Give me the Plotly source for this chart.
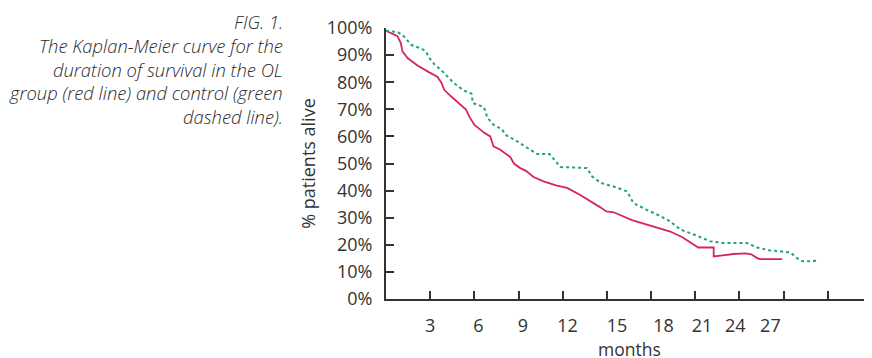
import plotly.graph_objects as go

# ---- data (months, % alive) ----
ol_months = [0, 0.78, 1.0, 1.12, 1.46, 2.14, 2.82, 3.5, 3.77, 3.95, 4.41, 5.43, 5.65, 5.99,
             6.67, 7.08, 7.3, 7.76, 8.44, 8.7, 9.12, 9.5, 10.02, 10.7, 11.6, 12.3, 13.19,
             13.87, 14.5, 14.96, 15.46, 16.7, 18.4, 19.3, 20.1, 20.7, 21.2, 22.25, 22.25,
             23.0, 23.6, 24.4, 24.8, 25.2, 25.4, 26.9]
ol_alive = [99, 97, 94.5, 91.4, 88.9, 86.2, 84.0, 81.9, 79.7, 77.2, 74.8, 69.9, 67.4, 64.3,
            61.3, 60.0, 56.3, 55.1, 52.4, 49.9, 48.3, 47.3, 45.0, 43.4, 41.8, 41.0, 38.4,
            36.2, 34.0, 32.3, 32.0, 29.1, 26.4, 24.9, 22.9, 20.7, 19.0, 19.0, 15.7,
            16.2, 16.6, 16.8, 16.5, 15.1, 14.7, 14.7]

ctrl_months = [0, 0.8, 1.2, 1.7, 2.4, 2.7, 2.95, 3.3, 3.95, 4.6, 5.3, 5.8, 5.9, 6.65, 6.88,
               7.25, 7.9, 8.1, 8.9, 9.8, 10.25, 11.1, 11.5, 11.85, 13.65, 14.0, 14.6, 15.46,
               16.37, 16.8, 17.7, 18.6, 19.3, 20.0, 21.1, 22.0, 22.9, 24.5, 25.2, 26.0,
               27.46, 27.9, 28.3, 29.0, 29.4]
ctrl_alive = [99, 98.5, 97, 93.8, 92.4, 91.4, 88.9, 86.5, 83.4, 79.7, 76.9, 75.8, 72.3, 70.8,
              67.0, 64.5, 62.5, 60.6, 58.2, 55.1, 53.5, 53.5, 50.8, 48.7, 48.3, 45.2, 42.8,
              41.5, 39.7, 35.4, 32.9, 30.7, 28.6, 25.6, 23.4, 21.3, 20.7, 20.7, 19.0, 18.0,
              17.2, 15.1, 13.9, 13.9, 14.5]

x_tick_labels = ["3", "6", "9", "12", "15", "18", "21", "24", "27"]
x_label_pos = [3.0, 6.28, 9.30, 12.33, 15.69, 18.85, 21.46, 23.72, 26.10]
x_title = "months"
y_title = "% patients alive"

caption_lines = ["FIG. 1.", "The Kaplan-Meier curve for the", "duration of survival in the OL",
                 "group (red line) and control (green", "dashed line)."]

RED = "#d6245f"
GREEN = "#239e8c"
AX = "#333333"
FONT = "Open Sans"

# the page body adds an 8px offset; size the figure so the plot lands where the reference has it
OFF = 8
W, H = 872 - OFF, 358 - OFF
ML, MT = 386 - OFF, 28 - OFF
MB = H - MT - 271

fig = go.Figure()
fig.add_trace(go.Scatter(x=ol_months, y=ol_alive, mode="lines",
                         line=dict(color=RED, width=1.8), showlegend=False))
fig.add_trace(go.Scatter(x=ctrl_months, y=ctrl_alive, mode="lines",
                         line=dict(color=GREEN, width=2, dash="3px,3px"), showlegend=False))
# invisible trace to activate label axis
fig.add_trace(go.Scatter(x=[0, 33], y=[0, 0], xaxis="x2", mode="lines",
                         line=dict(width=0), hoverinfo="skip", showlegend=False))

fig.update_layout(
    width=W, height=H,
    margin=dict(l=ML, r=0, t=MT, b=MB),
    paper_bgcolor="white", plot_bgcolor="white",
    font=dict(family=FONT, color=AX, size=18),
    xaxis=dict(range=[0, 33], dtick=3, tick0=0, ticks="inside", ticklen=8, tickwidth=1.5,
               tickcolor=AX, showline=True, linewidth=2, linecolor=AX, showgrid=False,
               zeroline=False, showticklabels=False, automargin=False),
    xaxis2=dict(range=[0, 33], overlaying="x", side="bottom", tickmode="array",
                tickvals=x_label_pos, ticktext=x_tick_labels, ticks="outside", ticklen=10,
                tickcolor="rgba(0,0,0,0)", showline=False, showgrid=False, zeroline=False,
                tickfont=dict(size=18, color=AX), automargin=False),
    yaxis=dict(range=[0, 100], dtick=10, tick0=0, ticks="inside", ticklen=8, tickwidth=1.5,
               tickcolor=AX, showline=True, linewidth=2, linecolor=AX, showgrid=False,
               zeroline=False, ticksuffix="%", tickfont=dict(size=18, color=AX),
               ticklabelstandoff=8, automargin=False,
               title=dict(text=y_title, standoff=6, font=dict(size=18, color=AX))),
)

# x-axis title placed just below the tick labels
fig.add_annotation(text=x_title, xref="paper", yref="paper", x=0.5,
                   y=(299.3 - 349) / 271, xanchor="center", yanchor="middle",
                   showarrow=False, borderpad=0, font=dict(family=FONT, size=17.5, color=AX))

line_y = [22, 46, 69.5, 93.3, 116.7]
for txt, py in zip(caption_lines, line_y):
    fig.add_annotation(text=txt, xref="paper", yref="paper",
                       x=(285 - 386) / 486, y=(299.3 - py) / 271,
                       xanchor="right", yanchor="middle", showarrow=False,
                       font=dict(family=FONT, size=18.4, color="#2a2a2a", style="italic",
                                 weight=300))

fig.write_html("out.html")
